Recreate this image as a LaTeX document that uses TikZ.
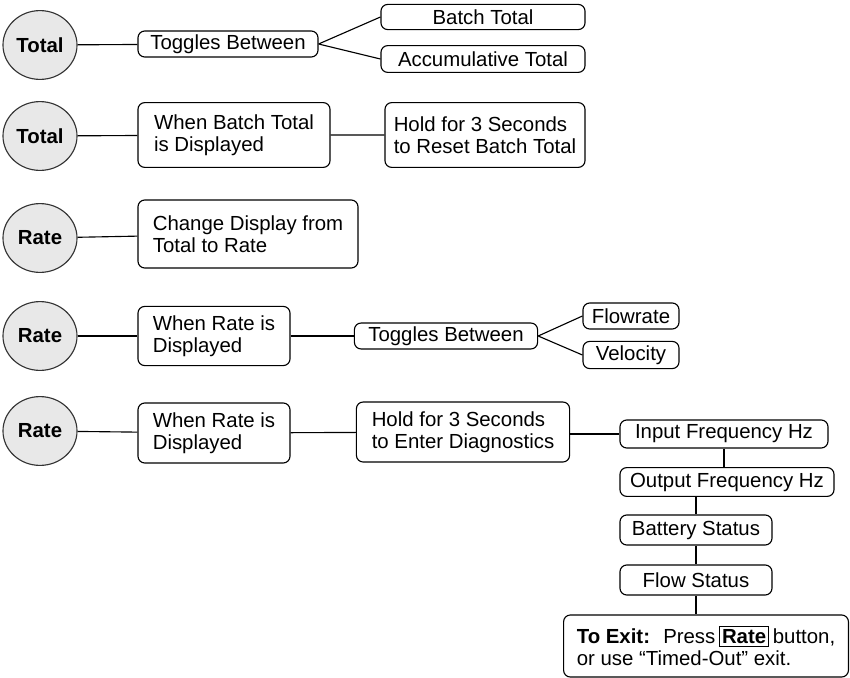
\documentclass[tikz,border=0pt]{standalone}
\usepackage{fontspec}
\setmainfont{Liberation Sans}
\usetikzlibrary{shapes.geometric}

\tikzset{
  btn/.style={ellipse, draw=black!80, line width=0.8pt, fill=black!9, inner sep=0pt,
    minimum width=1.85cm, minimum height=1.72cm, font=\fontsize{14.5}{16}\selectfont\bfseries},
  box/.style={draw, line width=0.8pt, rounded corners=0.17cm, inner sep=0pt},
  lbox/.style={box, align=left},
}

\begin{document}
\begin{tikzpicture}[x=0.025cm, y=-0.025cm, line width=0.8pt,
    every node/.style={font=\fontsize{14.5}{16}\selectfont}]
    \useasboundingbox (0,0) rectangle (850,678);
    % row 1
    \node[btn] (c1) at (40,45) {Total};
    \node[box, minimum width=4.5cm, minimum height=0.65cm] (tg1) at (228,44) {Toggles Between};
    \node[box, minimum width=5.1cm, minimum height=0.63cm] (bt1) at (483,17) {Batch Total};
    \node[box, minimum width=5.1cm, minimum height=0.67cm] (ac1) at (483,59) {Accumulative Total};
    \draw (c1) -- (tg1);
    \draw (tg1.east) -- (bt1.west) (tg1.east) -- (ac1.west);
    % row 2
    \node[btn] (c2) at (40,136) {Total};
    \node[lbox, minimum width=4.8cm, minimum height=1.62cm] (wb2) at (234,135) {When Batch Total\\is Displayed};
    \node[lbox, minimum width=5cm, minimum height=1.62cm] (hr2) at (485,135) {Hold for 3 Seconds\\to Reset Batch Total};
    \draw (c2) -- (wb2) -- (hr2);
    % row 3
    \node[btn] (c3) at (40,238) {Rate};
    \node[lbox, minimum width=5.5cm, minimum height=1.7cm] (cd3) at (248,234) {Change Display from\\Total to Rate};
    \draw (c3) -- (cd3);
    % row 4
    \node[btn] (c4) at (40,336) {Rate};
    \node[lbox, minimum width=3.8cm, minimum height=1.48cm] (wr4) at (214,336) {When Rate is\\Displayed};
    \node[box, minimum width=4.58cm, minimum height=0.65cm] (tg4) at (446,336) {Toggles Between};
    \node[box, minimum width=2.4cm, minimum height=0.65cm] (fl4) at (631,316) {Flowrate};
    \node[box, minimum width=2.4cm, minimum height=0.68cm] (ve4) at (631,355) {Velocity};
    \draw (c4) -- (wr4) -- (tg4);
    \draw (tg4.east) -- (fl4.west) (tg4.east) -- (ve4.west);
    % row 5
    \node[btn] (c5) at (40,431) {Rate};
    \node[lbox, minimum width=3.8cm, minimum height=1.5cm] (wr5) at (214,433) {When Rate is\\Displayed};
    \node[lbox, minimum width=5.33cm, minimum height=1.5cm] (hd5) at (463,432) {Hold for 3 Seconds\\to Enter Diagnostics};
    \node[box, minimum width=5.2cm, minimum height=0.7cm] (inf) at (724,434) {Input Frequency Hz};
    \node[box, minimum width=5.35cm, minimum height=0.72cm] (outf) at (727,482) {Output Frequency Hz};
    \node[box, minimum width=3.8cm, minimum height=0.75cm] (bat) at (696,530) {Battery Status};
    \node[box, minimum width=3.8cm, minimum height=0.75cm] (flow) at (696,580) {Flow Status};
    \node[lbox, minimum width=7.12cm, minimum height=1.55cm] (exit) at (706,646)
      {\textbf{To Exit:}~ Press\,\setlength{\fboxsep}{1.5pt}\setlength{\fboxrule}{0.8pt}\fbox{\textbf{Rate}}\,button,\\or use “Timed-Out” exit.};
    \draw (c5) -- (wr5) -- (hd5);
    \draw (hd5.east |- inf) -- (inf);
    \draw (inf) -- (outf.north -| inf);
    \draw (outf.south -| bat) -- (bat);
    \draw (bat) -- (flow);
    \draw (flow) -- (flow.south |- exit.north);
\end{tikzpicture}
\end{document}
